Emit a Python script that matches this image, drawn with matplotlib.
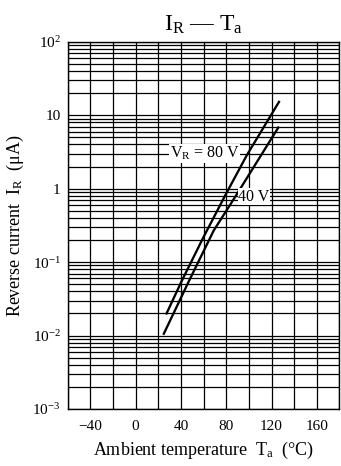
import numpy as np
import matplotlib as mpl
import matplotlib.pyplot as plt

mpl.rcParams['font.family'] = ['Liberation Serif', 'DejaVu Serif']
mpl.rcParams['mathtext.fontset'] = 'custom'
mpl.rcParams['mathtext.rm'] = 'Liberation Serif'
mpl.rcParams['mathtext.it'] = 'Liberation Serif:italic'

# readings from the curve (Ta in degC, IR in uA)
ta_80 = [27.3, 41.1, 60, 79.1, 98.2, 126.6]
ir_80 = [0.020, 0.057, 0.22, 0.81, 2.86, 15.2]
ta_40 = [24.9, 47.5, 69, 88.5, 126]
ir_40 = [0.0106, 0.057, 0.27, 0.80, 6.8]

x_ticks = [-40, 0, 40, 80, 120, 160]
y_ticks = [1e-3, 1e-2, 1e-1, 1, 10, 100]
y_labels = ['$10^{-3}$', '$10^{-2}$', '$10^{-1}$', '1', '10', '$10^{2}$']

fig = plt.figure(figsize=(3.41, 4.66), dpi=100)
ax = fig.add_axes([0.1985, 0.1223, 0.797, 0.788])

ax.set_yscale('log')
ax.set_xlim(-60, 180)
ax.set_ylim(1e-3, 1e2)

# grid: every 20 degC, log minor lines
ax.set_xticks(np.arange(-60, 181, 20), minor=True)
ax.set_xticks(x_ticks)
ax.set_yticks(y_ticks)
ax.set_yticklabels(y_labels)
ax.grid(True, which='both', color='black', lw=0.9)
ax.tick_params(which='both', length=0, labelsize=11)
ax.tick_params(axis='x', pad=8)
ax.tick_params(axis='y', pad=5)
for s in ax.spines.values():
    s.set_linewidth(1.0)

ax.plot(ta_80, ir_80, color='black', lw=1.65)
ax.plot(ta_40, ir_40, color='black', lw=1.65)

box = dict(facecolor='white', edgecolor='none', pad=0.5)
ax.text(61, 3, '$\\mathregular{V_R}$ = 80 V', ha='center', va='center',
        fontsize=11.5, bbox=box)
ax.text(104.5, 0.78, '40 V', ha='center', va='center', fontsize=11.5, bbox=box)

ax.set_title('$\\mathregular{I_R}$ — $\\mathregular{T_a}$', fontsize=17, pad=8)
ax.set_xlabel('Ambient temperature  $\\mathregular{T_a}$  (°C)', fontsize=13, labelpad=5)
ax.set_ylabel('Reverse current  $\\mathregular{I_R}$  (μA)', fontsize=13, labelpad=5)

fig.savefig('out.png', dpi=100)
